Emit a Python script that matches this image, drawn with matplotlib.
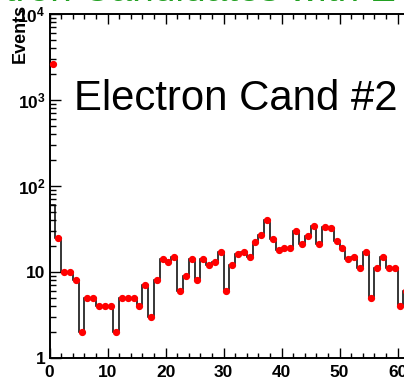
import numpy as np
import matplotlib
matplotlib.use("Agg")
import matplotlib.pyplot as plt
from matplotlib.ticker import FixedLocator, NullFormatter

plt.rcParams['font.family'] = ['Liberation Sans', 'DejaVu Sans']
plt.rcParams['mathtext.fontset'] = 'custom'
plt.rcParams['mathtext.rm'] = 'Liberation Sans:bold'
plt.rcParams['mathtext.bf'] = 'Liberation Sans:bold'
plt.rcParams['mathtext.it'] = 'Liberation Sans:bold'

# ---- data ----
bin_edges = np.arange(0, 63, 1)
data_counts = [2600, 25, 10, 10, 8, 2, 5, 5, 4, 4,
               4, 2, 5, 5, 5, 4, 7, 3, 8, 14,
               13, 15, 6, 9, 14, 8, 14, 12, 13, 17,
               6, 12, 16, 17, 15, 22, 27, 40, 24, 18,
               19, 19, 30, 21, 26, 34, 21, 33, 32, 23,
               19, 14, 15, 11, 17, 5, 11, 15, 11, 11,
               4, 6]
line_counts = [60] + data_counts[1:]
x_tick_labels = ['0', '10', '20', '30', '40', '50', '60']
y_tick_values = [1, 10, 100, 1000, 10000]
y_tick_labels = ['1', '10', r'$\mathbf{10^{2}}$', r'$\mathbf{10^{3}}$', r'$\mathbf{10^{4}}$']
title_text = 'Electron Candidates with ET cut'
label_text = 'Electron Cand #2'

W, H = 404, 387
fig = plt.figure(figsize=(W / 100, H / 100), dpi=100)
x0_px, scale = 49.6, 5.8
xmax = 62
ax = fig.add_axes([x0_px / W, 1 - 357.7 / H, xmax * scale / W, (357.7 - 14.0) / H])

centers = (bin_edges[:-1] + bin_edges[1:]) / 2
ax.stairs(line_counts, bin_edges, color='black', linewidth=1.1, baseline=None)
ax.plot(centers, data_counts, 'o', color='red', mec='red', ms=4.2, clip_on=False, zorder=3)

ax.set_yscale('log')
ax.set_ylim(1, 1e4)
ax.set_xlim(0, xmax)

ax.xaxis.set_major_locator(FixedLocator([0, 10, 20, 30, 40, 50, 60]))
ax.set_xticklabels(x_tick_labels)
ax.xaxis.set_minor_locator(FixedLocator(np.arange(0, xmax + 1, 2)))
ax.yaxis.set_major_locator(FixedLocator(y_tick_values))
ax.set_yticklabels(y_tick_labels)
minor_y = [m * 10 ** e for e in range(0, 4) for m in range(2, 10)]
ax.yaxis.set_minor_locator(FixedLocator(minor_y))
ax.yaxis.set_minor_formatter(NullFormatter())

ax.tick_params(axis='both', which='both', direction='in', top=True, right=False, width=1.0)
ax.tick_params(axis='x', which='major', length=7.5, labelsize=12.5, pad=5)
ax.tick_params(axis='x', which='minor', length=3.8)
ax.tick_params(axis='y', which='major', length=8, labelsize=12.5, pad=3)
ax.tick_params(axis='y', which='minor', length=4.2)
for lab in ax.get_xticklabels() + ax.get_yticklabels():
    lab.set_fontweight('bold')

for side in ['left', 'bottom', 'top']:
    ax.spines[side].set_linewidth(1.4)
ax.spines['right'].set_visible(False)

fig.text(20 / W, 1 - 4 / H, 'Events', rotation=90, ha='center', va='top',
         fontsize=13, fontweight='bold')
fig.text(74 / W, 1 - 110 / H, label_text, ha='left', va='baseline', fontsize=30.2,
         color='black')
fig.text(205 / W, 1 - 1 / H, title_text, ha='center', va='baseline', fontsize=28,
         color='#22a022')

fig.savefig('out.png', dpi=100)
